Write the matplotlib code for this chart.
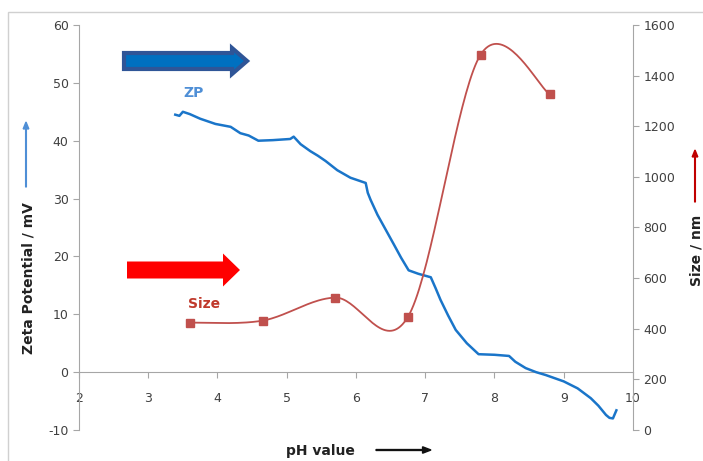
import numpy as np
import matplotlib
matplotlib.use("Agg")
import matplotlib.pyplot as plt
from matplotlib.patches import FancyArrow, Rectangle

plt.rcParams["axes.unicode_minus"] = False

# Zeta potential vs pH
zp_ph = [3.39, 3.45, 3.5, 3.6, 3.75, 3.97, 4.19, 4.33, 4.45, 4.59, 4.8, 5.05, 5.1,
         5.2, 5.34, 5.45, 5.56, 5.73, 5.92, 6.14, 6.17, 6.21, 6.31, 6.43, 6.55,
         6.65, 6.76, 6.9, 7.08, 7.15, 7.22, 7.33, 7.44, 7.6, 7.77, 8.0, 8.21,
         8.3, 8.45, 8.6, 8.74, 9.0, 9.2, 9.39, 9.5, 9.61, 9.66, 9.71, 9.76]
zp_mv = [44.5, 44.3, 45.0, 44.6, 43.8, 42.9, 42.4, 41.3, 40.9, 40.0, 40.1, 40.3, 40.7,
         39.4, 38.2, 37.4, 36.5, 34.9, 33.6, 32.7, 31.0, 29.8, 27.2, 24.6, 22.0,
         19.8, 17.6, 17.0, 16.4, 14.5, 12.5, 9.8, 7.3, 5.0, 3.1, 3.0, 2.8,
         1.8, 0.7, 0.0, -0.5, -1.6, -2.8, -4.5, -5.8, -7.4, -7.9, -8.0, -6.6]

# Particle size vs pH
size_ph = [3.6, 4.65, 5.7, 6.75, 7.8, 8.8]
size_nm = [424, 432, 523, 447, 1483, 1326]


def excel_smooth(x, y, n=40):
    # bezier through the points, like Excel's smoothed line
    x = np.asarray(x, float)
    y = np.asarray(y, float)
    px = np.concatenate([[x[0]], x, [x[-1]]])
    py = np.concatenate([[y[0]], y, [y[-1]]])
    xs, ys = [], []
    t = np.linspace(0, 1, n)
    for i in range(1, len(px) - 2):
        p0 = np.array([px[i], py[i]])
        p3 = np.array([px[i + 1], py[i + 1]])
        c1 = p0 + (np.array([px[i + 1], py[i + 1]]) - np.array([px[i - 1], py[i - 1]])) / 6
        c2 = p3 - (np.array([px[i + 2], py[i + 2]]) - np.array([px[i], py[i]])) / 6
        pts = ((1 - t) ** 3)[:, None] * p0 + (3 * (1 - t) ** 2 * t)[:, None] * c1 \
            + (3 * (1 - t) * t ** 2)[:, None] * c2 + (t ** 3)[:, None] * p3
        xs.extend(pts[:, 0])
        ys.extend(pts[:, 1])
    return xs, ys


W, H = 703, 461
fig = plt.figure(figsize=(W / 100, H / 100), dpi=100)
ax = fig.add_axes([79 / W, 1 - 430 / H, (633 - 79) / W, (430 - 25) / H])
ax2 = ax.twinx()

grey = "#a6a6a6"
txt = "#404040"

ax.plot(zp_ph, zp_mv, color="#1a75c9", lw=1.8, zorder=3)
ax.set_xlim(2, 10)
ax.set_ylim(-10, 60)
ax.set_yticks(range(-10, 61, 10))
ax.set_xticks(range(2, 11))

sx, sy = excel_smooth(size_ph, size_nm)
ax2.plot(sx, sy, color="#c0504d", lw=1.3)
ax2.plot(size_ph, size_nm, ls="none", marker="s", ms=6, color="#c0504d")
ax2.set_ylim(0, 1600)
ax2.set_yticks(range(0, 1601, 200))

for a in (ax, ax2):
    a.spines["top"].set_visible(False)
    a.tick_params(labelsize=9, colors=txt, length=4, width=0.8)
    a.tick_params(axis="both", color=grey)
ax.spines["bottom"].set_position(("data", 0))
ax.spines["bottom"].set_color(grey)
ax.spines["left"].set_color(grey)
ax.spines["right"].set_visible(False)
ax2.spines["left"].set_visible(False)
ax2.spines["bottom"].set_visible(False)
ax2.spines["right"].set_color(grey)
ax.tick_params(axis="x", pad=10)

ax.text(3.65, 47.5, "ZP", color="#4f8fd6", fontsize=10, fontweight="bold", ha="center")
ax2.text(3.8, 480, "Size", color="#c0392b", fontsize=10, fontweight="bold", ha="center")

# axis titles
fig.text(28 / W, 1 - 278 / H, "Zeta Potential / mV", rotation=90, ha="center", va="center",
         fontsize=10, fontweight="bold", color="#222222")
fig.text(697 / W, 1 - 250 / H, "Size / nm", rotation=90, ha="center", va="center",
         fontsize=10, fontweight="bold", color="#222222")
fig.text(320 / W, 1 - 451 / H, "pH value", ha="center", va="center",
         fontsize=10, fontweight="bold", color="#222222")

# small pointer arrows next to titles
fig.patches.append(FancyArrow(26 / W, 1 - 187 / H, 0, 65 / H, width=0.001, head_width=0.008,
                              head_length=0.015, length_includes_head=True,
                              color="#4f8fd6", transform=fig.transFigure, figure=fig))
fig.patches.append(FancyArrow(695 / W, 1 - 202 / H, 0, 52 / H, width=0.001, head_width=0.008,
                              head_length=0.015, length_includes_head=True,
                              color="#c00000", transform=fig.transFigure, figure=fig))
fig.patches.append(FancyArrow(376 / W, 1 - 450 / H, 55 / W, 0, width=0.002, head_width=0.014,
                              head_length=0.012, length_includes_head=True,
                              color="#111111", transform=fig.transFigure, figure=fig))

# big block arrows
fig.patches.append(FancyArrow(124 / W, 1 - 61 / H, 123 / W, 0, width=16 / H, head_width=26 / H,
                              head_length=15 / W, length_includes_head=True,
                              facecolor="#0070c0", edgecolor="#2f5597", lw=3,
                              transform=fig.transFigure, figure=fig))
fig.patches.append(FancyArrow(127 / W, 1 - 270 / H, 113 / W, 0, width=17 / H, head_width=33 / H,
                              head_length=17 / W, length_includes_head=True,
                              facecolor="#ff0000", edgecolor="none",
                              transform=fig.transFigure, figure=fig))

# chart area border
fig.patches.append(Rectangle((8 / W, -0.1), 1.2, 1 - 12 / H + 0.1, fill=False,
                             edgecolor="#d0d0d0", lw=1, transform=fig.transFigure, figure=fig))

fig.savefig("out.png", dpi=100)
